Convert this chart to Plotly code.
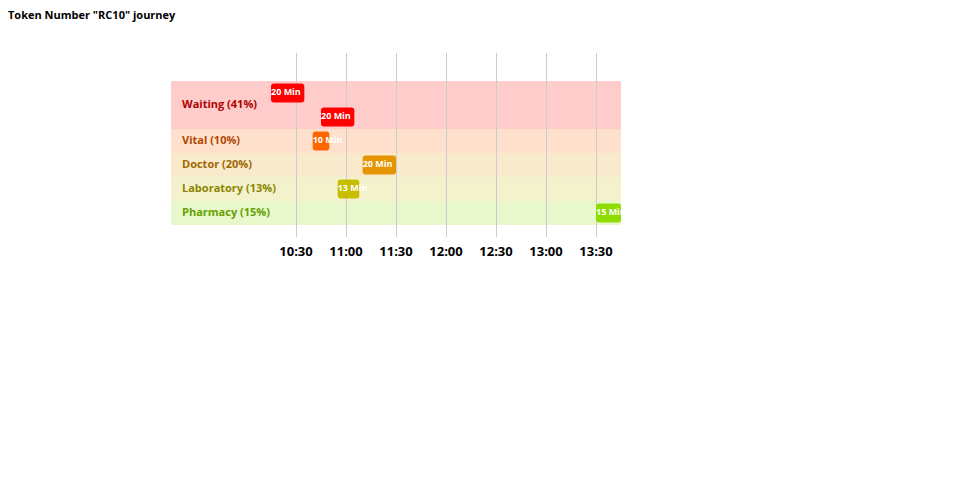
import plotly.graph_objects as go

# ---- data ----
stages = ["Waiting", "Vital", "Doctor", "Laboratory", "Pharmacy"]
stage_pct = [41, 10, 20, 13, 15]
stage_colors = ["#FF0000", "#FF6600", "#E69500", "#C8BE00", "#8FDD00"]
band_colors = ["#FFCCCC", "#FFE0CC", "#FAEACC", "#F4F2CC", "#E9F8CC"]
label_colors = ["#B20000", "#B34700", "#A06800", "#8C8500", "#64A000"]

seg_stage = ["Waiting", "Waiting", "Vital", "Doctor", "Laboratory", "Pharmacy"]
seg_lane = [0, 1, 2, 3, 4, 5]
seg_start = ["10:15", "10:45", "10:40", "11:10", "10:55", "13:30"]
seg_minutes = [20, 20, 10, 20, 13, 15]

tick_labels = ["10:30", "11:00", "11:30", "12:00", "12:30", "13:00", "13:30"]
x_range = ["09:15", "13:45"]
stage_lanes = {"Waiting": [0, 1], "Vital": [2], "Doctor": [3], "Laboratory": [4], "Pharmacy": [5]}


def to_min(s):
    h, m = s.split(":")
    return int(h) * 60 + int(m)


starts = [to_min(s) for s in seg_start]
colors = [stage_colors[stages.index(s)] for s in seg_stage]

fig = go.Figure()
fig.add_trace(go.Bar(
    orientation="h",
    y=seg_lane,
    x=seg_minutes,
    base=starts,
    width=0.8,
    marker=dict(color=colors, line=dict(width=0)),
    hoverinfo="skip",
    showlegend=False,
))
fig.add_trace(go.Scatter(
    x=starts,
    y=seg_lane,
    mode="text",
    text=[f"{m} Min" for m in seg_minutes],
    textposition="middle right",
    textfont=dict(family="Open Sans", size=9, color="white", weight="bold"),
    cliponaxis=True,
    hoverinfo="skip",
    showlegend=False,
))

shapes = []
annotations = []
for i, s in enumerate(stages):
    lanes = stage_lanes[s]
    y0 = min(lanes) - 0.5
    y1 = max(lanes) + 0.5
    shapes.append(dict(type="rect", xref="paper", yref="y", x0=0, x1=1, y0=y0, y1=y1,
                       fillcolor=band_colors[i], line=dict(width=0), layer="below"))
    annotations.append(dict(xref="paper", yref="y", x=0, y=(y0 + y1) / 2, xshift=9, yshift=2,
                            xanchor="left", yanchor="middle", showarrow=False,
                            text=f"<b>{s} ({stage_pct[i]}%)</b>",
                            font=dict(family="Open Sans", size=11, color=label_colors[i])))

fig.update_layout(
    width=952, height=492,
    margin=dict(l=163, r=339, t=45, b=263),
    paper_bgcolor="white", plot_bgcolor="white",
    barcornerradius=3,
    shapes=shapes,
    annotations=annotations,
    title=dict(text="<b>Token Number \"RC10\" journey</b>", x=0.0, xanchor="left",
               y=0.986, yanchor="middle",
               font=dict(family="Open Sans", size=11, color="black")),
    xaxis=dict(range=[to_min(x_range[0]), to_min(x_range[1])],
               tickvals=[to_min(t) for t in tick_labels], ticktext=tick_labels,
               showgrid=True, gridcolor="#CCCCCC", gridwidth=1, zeroline=False,
               showline=False, ticks="", ticklabelstandoff=5,
               tickfont=dict(family="Open Sans", size=13, color="black", weight="bold"),
               fixedrange=True),
    yaxis=dict(range=[6, -1.6667], showgrid=False, zeroline=False, showticklabels=False,
               ticks="", showline=False, fixedrange=True),
)

fig.write_html("out.html")
